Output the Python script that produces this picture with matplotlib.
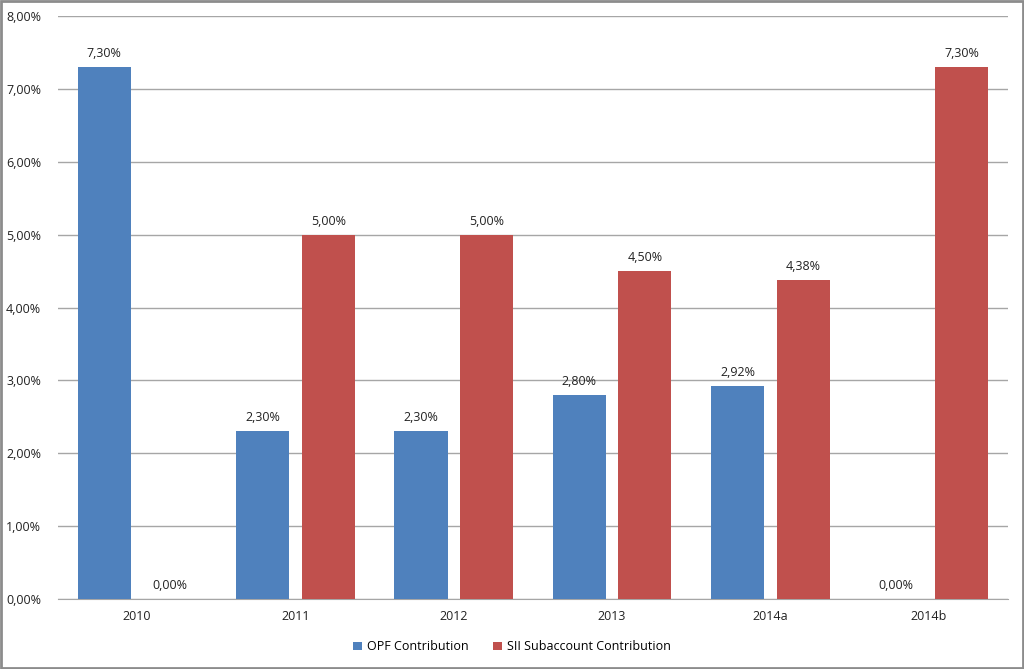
import matplotlib.pyplot as plt
import numpy as np
from matplotlib.patches import Rectangle

years = ["2010", "2011", "2012", "2013", "2014a", "2014b"]
opf = [7.30, 2.30, 2.30, 2.80, 2.92, 0.00]
sii = [0.00, 5.00, 5.00, 4.50, 4.38, 7.30]
yticks = [0, 1, 2, 3, 4, 5, 6, 7, 8]

blue = "#4F81BD"
red = "#C0504D"

plt.rcParams['font.family'] = ['Open Sans', 'DejaVu Sans']

fig = plt.figure(figsize=(10.24, 6.69), dpi=100)
ax = fig.add_axes([0.0566, 0.1046, 0.9277, 0.8714])

x = np.arange(len(years))
w = 0.335
b1 = ax.bar(x - 0.207, opf, w, color=blue, label="OPF Contribution", zorder=3)
b2 = ax.bar(x + 0.207, sii, w, color=red, label="SII Subaccount Contribution", zorder=3)

def fmt(v):
    return ("%.2f%%" % v).replace(".", ",")

for bars, vals in ((b1, opf), (b2, sii)):
    for r, v in zip(bars, vals):
        ax.annotate(fmt(v), (r.get_x() + r.get_width() / 2, v),
                    xytext=(0, 5), textcoords="offset points",
                    ha="center", va="bottom", fontsize=9, color="#222222")

ax.set_xlim(-0.5, len(years) - 0.5)
ax.set_ylim(0, 8)
ax.set_yticks(yticks)
ax.set_yticklabels([fmt(v) for v in yticks], fontsize=9, color="#222222")
ax.set_xticks(x)
ax.set_xticklabels(years, fontsize=9, color="#222222")
ax.tick_params(axis="both", length=0, pad=8)
ax.tick_params(axis="y", pad=12)
ax.yaxis.grid(True, color="#A6A6A6", linewidth=1, zorder=0)
for s in ["left", "right", "top"]:
    ax.spines[s].set_visible(False)
ax.spines["bottom"].set_color("#A6A6A6")

fig.legend(handles=[b1, b2], loc="center", bbox_to_anchor=(0.5, 0.033), ncol=2,
           frameon=False, fontsize=9, handlelength=0.7, handleheight=0.7,
           columnspacing=2.0, handletextpad=0.4)

fig.patches.append(Rectangle((0.001, 0.0015), 0.998, 0.997, transform=fig.transFigure,
                             fill=False, edgecolor="#8C8C8C", linewidth=2))

fig.savefig("out.png", dpi=100)
